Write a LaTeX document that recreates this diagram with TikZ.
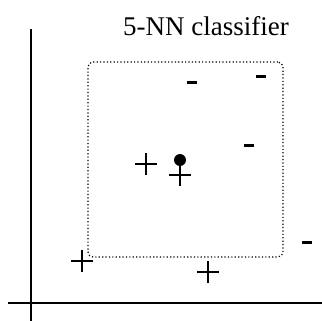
\documentclass[tikz,border=0pt]{standalone}
\usepackage{fontspec}
\setmainfont{Liberation Serif}
\tikzset{
  plusmark/.style={minimum size=11pt, inner sep=0pt,
    path picture={\draw[line width=0.6pt]
      (path picture bounding box.north) -- (path picture bounding box.south)
      (path picture bounding box.west) -- (path picture bounding box.east);}},
  minusmark/.style={fill, minimum width=5pt, minimum height=1.5pt, inner sep=0pt},
  query/.style={circle, fill, minimum size=6pt, inner sep=0pt},
}
\begin{document}
\begin{tikzpicture}[x=0.5pt, y=-0.5pt]
  \useasboundingbox (0,0) rectangle (322,321);
  \node[anchor=base, font=\fontsize{13.5}{16}\selectfont] (title) at (206,35) {5-NN classifier};
  \node[draw, line width=0.6pt, dash pattern=on 0.6pt off 1.1pt, rounded corners=2.5pt,
    minimum width=97.5pt, minimum height=97.5pt, inner sep=0pt] (window) at (185.5,159.5) {};
  \draw
    (146,164) node[plusmark] (p1){}
    (180,175) node[plusmark] (p2){}
    (82,261) node[plusmark] (p3){}
    (208,272) node[plusmark] (p4){}
    (192,82) node[minusmark] (n1){}
    (261,76) node[minusmark] (n2){}
    (249,145) node[minusmark] (n3){}
    (307,242) node[minusmark] (n4){}
    (180,160) node[query] (q){};
  \coordinate (xl) at (8,303);
  \coordinate (xr) at (322,303);
  \coordinate (yt) at (31,29);
  \coordinate (yb) at (31,321);
  \begin{scope}[line width=0.6pt]
    \draw (xl) -- (xr);
    \draw (yt) -- (yb);
  \end{scope}
\end{tikzpicture}
\end{document}
